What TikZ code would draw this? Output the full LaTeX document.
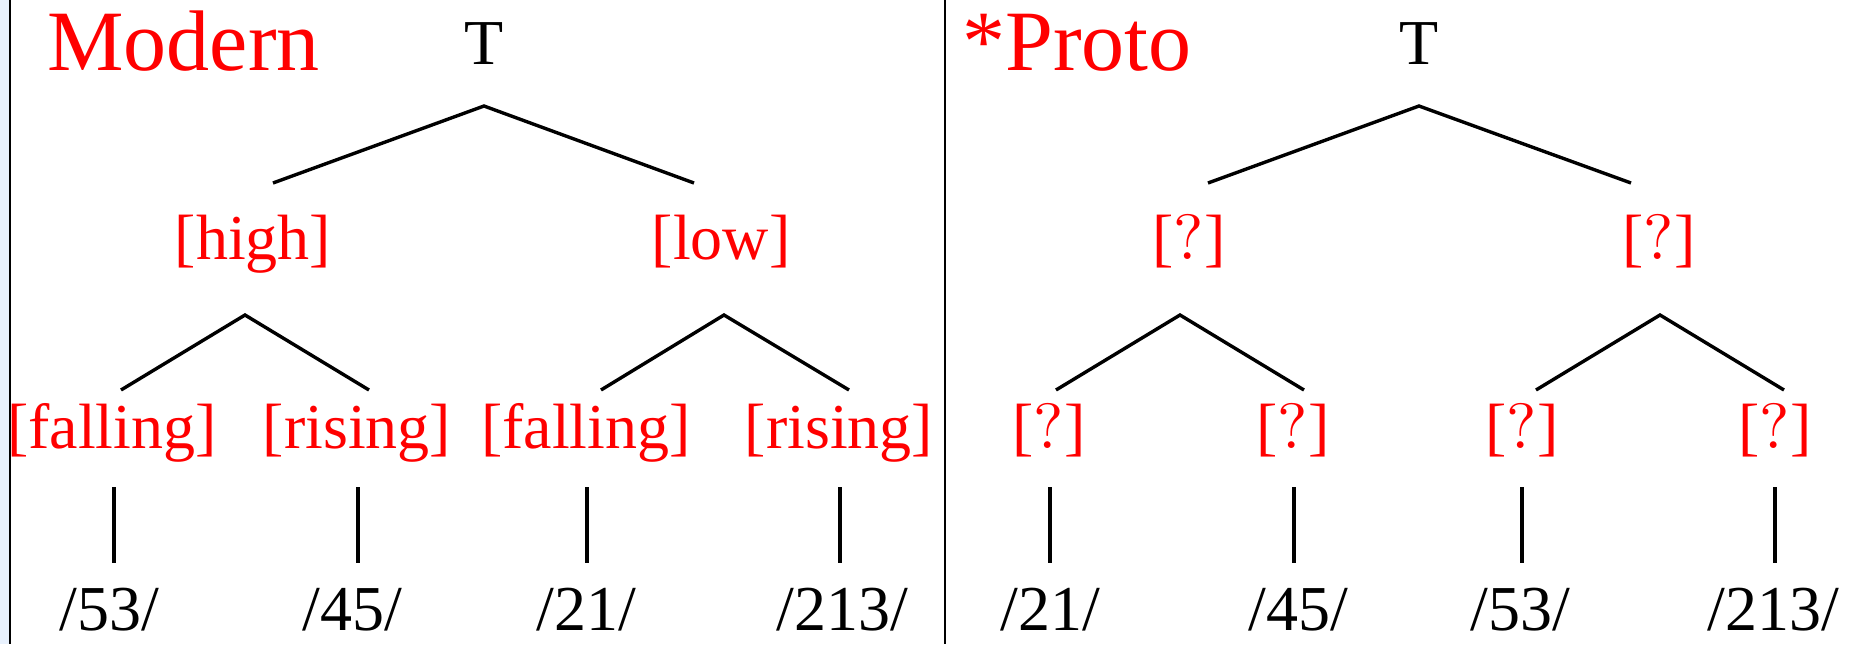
\documentclass[tikz,border=0pt]{standalone}
\usepackage{fontspec}
\newfontfamily\tnr{Liberation Serif}
\newfontfamily\lmten{lmroman10-regular.otf}
\definecolor{bandblue}{RGB}{232,241,253}
\tikzset{
  lbl/.style={inner sep=0pt, anchor=base, font=\tnr\fontsize{32pt}{36pt}\selectfont},
  feat/.style={lbl, text=red},
  title/.style={inner sep=0pt, anchor=base west, text=red, font=\tnr\fontsize{43pt}{48pt}\selectfont},
  branch/.style={line width=1.7pt},
  sep/.style={line width=0.9pt}
}
\newcommand{\qm}{[{\lmten\fontsize{32pt}{36pt}\selectfont ?}]}
\begin{document}
\begin{tikzpicture}[x=0.5pt,y=-0.5pt]
\useasboundingbox (0,0) rectangle (1854,644);
\fill[bandblue] (0,0) rectangle (8.5,644);
% separators
\coordinate (s1t) at (10,0); \coordinate (s1b) at (10,644);
\coordinate (s2t) at (945,0); \coordinate (s2b) at (945,644);
\draw[sep] (s1t) -- (s1b);
\draw[sep] (s2t) -- (s2b);
% titles
\node[title] (modern) at (47,70) {Modern};
\node[title] (proto) at (962,70) {*Proto};
% ---------------- left tree ----------------
\node[lbl] (LT) at (484,64) {T};
\coordinate (LTa) at (484,106);
\coordinate (LTl) at (273,183);
\coordinate (LTr) at (694,183);
\draw[branch] (LTl) -- (LTa) -- (LTr);
\node[feat] (Lhi) at (253,259) {[high]};
\node[feat] (Llo) at (721,259) {[low]};
\coordinate (Lha) at (245,315);
\coordinate (Lhl) at (121,390);
\coordinate (Lhr) at (369,390);
\draw[branch] (Lhl) -- (Lha) -- (Lhr);
\coordinate (Lla) at (724,315);
\coordinate (Lll) at (601,390);
\coordinate (Llr) at (849,390);
\draw[branch] (Lll) -- (Lla) -- (Llr);
\node[feat] (Lf1) at (112,448) {[falling]};
\node[feat] (Lr1) at (357,448) {[rising]};
\node[feat] (Lf2) at (586,448) {[falling]};
\node[feat] (Lr2) at (839,448) {[rising]};
\foreach \i/\x in {1/114,2/358,3/587,4/840}{
  \coordinate (Lv\i t) at (\x,487);
  \coordinate (Lv\i b) at (\x,563);
  \draw[branch] (Lv\i t) -- (Lv\i b);
}
\node[lbl] (Lb1) at (109,630) {/53/};
\node[lbl] (Lb2) at (352,630) {/45/};
\node[lbl] (Lb3) at (586,630) {/21/};
\node[lbl] (Lb4) at (842,630) {/213/};
% ---------------- right tree ----------------
\node[lbl] (RT) at (1419,64) {T};
\coordinate (RTa) at (1419,106);
\coordinate (RTl) at (1208,183);
\coordinate (RTr) at (1631,183);
\draw[branch] (RTl) -- (RTa) -- (RTr);
\node[feat] (Rhi) at (1189,259) {\qm};
\node[feat] (Rlo) at (1659,259) {\qm};
\coordinate (Rha) at (1180,315);
\coordinate (Rhl) at (1056,390);
\coordinate (Rhr) at (1304,390);
\draw[branch] (Rhl) -- (Rha) -- (Rhr);
\coordinate (Rla) at (1660,315);
\coordinate (Rll) at (1536,390);
\coordinate (Rlr) at (1784,390);
\draw[branch] (Rll) -- (Rla) -- (Rlr);
\node[feat] (Rq1) at (1049,448) {\qm};
\node[feat] (Rq2) at (1293,448) {\qm};
\node[feat] (Rq3) at (1522,448) {\qm};
\node[feat] (Rq4) at (1775,448) {\qm};
\foreach \i/\x in {1/1050,2/1294,3/1522,4/1775}{
  \coordinate (Rv\i t) at (\x,487);
  \coordinate (Rv\i b) at (\x,563);
  \draw[branch] (Rv\i t) -- (Rv\i b);
}
\node[lbl] (Rb1) at (1050,630) {/21/};
\node[lbl] (Rb2) at (1298,630) {/45/};
\node[lbl] (Rb3) at (1520,630) {/53/};
\node[lbl] (Rb4) at (1773,630) {/213/};
\end{tikzpicture}
\end{document}
